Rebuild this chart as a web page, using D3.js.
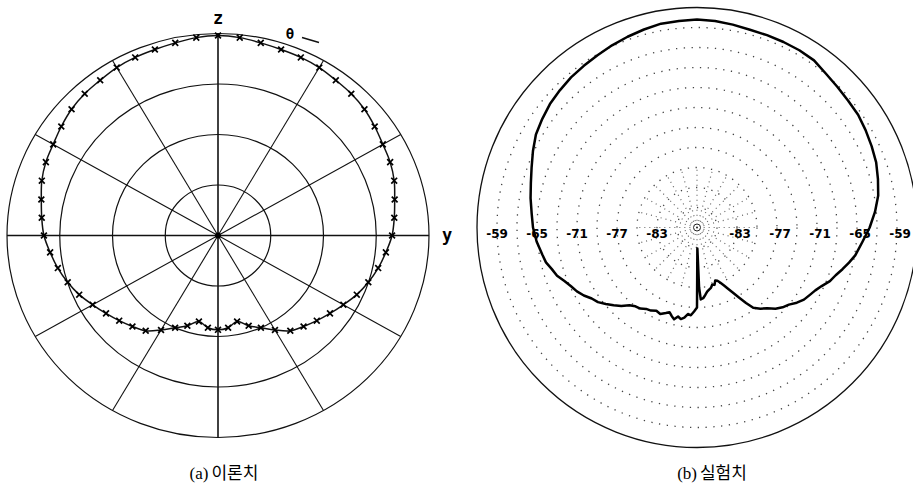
<!DOCTYPE html>
<html>
<head>
<meta charset="utf-8">
<script src="https://cdn.jsdelivr.net/npm/d3@7"></script>
<style>
  body { margin: 0; background: #fff; }
  svg { display: block; }
</style>
</head>
<body>
<svg id="chart" width="913" height="497"></svg>
<script>
// (a) theoretical pattern, theta from z axis (deg), relative radius
var thetaA = [0, 6, 12, 18, 24, 30, 36, 42, 48, 54, 60, 66, 72, 78, 84, 90,
              96, 102, 108, 114, 120, 126, 132, 138, 144, 150, 156, 162, 168, 174, 180];
var radA = [0.99, 0.985, 0.975, 0.968, 0.965, 0.96, 0.95, 0.944, 0.934, 0.918, 0.902, 0.893, 0.878, 0.856, 0.84, 0.825,
            0.80, 0.776, 0.749, 0.72, 0.686, 0.656, 0.63, 0.606, 0.583, 0.54, 0.50, 0.47, 0.435, 0.459, 0.467];
var ringsA = [0.25, 0.5, 0.75, 1];
var spokesA = [0, 30, 60, 90, 120, 150, 180, 210, 240, 270, 300, 330];

// (b) measured pattern, angle clockwise from top (deg), level in dB
var phiB = [0, 5, 10, 15, 20, 25, 30, 35, 40, 45, 50, 55, 60, 65, 70, 75, 80, 85, 90, 95, 100,
            103, 106, 109, 112, 115, 118, 121, 124, 127, 130, 133, 136, 139, 142, 145, 147, 149, 151, 153, 155,
            157, 159, 161, 163, 165, 167, 169, 171, 173, 175, 177, 178, 179, 180, 182, 184, 186, 188, 190, 192,
            194, 196, 198, 200, 203, 206, 209, 212, 215, 218, 221, 224, 227, 230, 233, 236, 239, 242, 245, 248,
            251, 254, 257, 260, 265, 270, 275, 280, 285, 290, 295, 300, 305, 310, 315, 320, 325, 330, 335, 340,
            345, 350, 355];
var dbB = [-57.8, -57.9, -58.1, -58.3, -58.3, -58.3, -58.3, -58.4, -58.9, -59.2, -59.4, -59.5, -59.8, -60.1, -60.4, -60.9, -61.4, -62.2, -63.1, -64.1, -64.9,
           -65.6, -66.3, -67.0, -67.5, -68.3, -68.9, -69.3, -69.65, -70.25, -71.0, -71.45, -72.05, -72.95, -73.55, -74.3, -75.5, -76.7, -77.75, -78.65, -79.4,
           -80.0, -80.45, -80.6, -80.0, -80.15, -79.7, -79.5, -79.25, -78.8, -78.35, -78.2, -80.0, -85.85, -77.0, -76.4, -75.8, -75.95, -75.35, -75.05, -75.35,
           -74.8, -75.2, -75.65, -75.35, -74.9, -75.1, -74.75, -74.6, -74.15, -74.0, -73.55, -72.65, -71.9, -71.15, -70.4, -69.95, -69.2, -68.6, -68.15, -67.55,
           -66.8, -66.35, -65.75, -65.45, -64.85, -64.4, -64.1, -63.65, -63.2, -62.6, -61.85, -61.1, -60.65, -60.2, -59.9, -59.6, -59.4, -59.15, -58.85, -58.55,
           -58.25, -57.95, -57.9];
var ringsB = [-86, -83, -80, -77, -74, -71, -68, -65, -62, -59];
var labelsB = [-83, -77, -71, -65, -59];
var spokesB = [0, 15, 30, 45, 60, 75, 90, 105, 120, 135, 150, 165, 180, 195, 210, 225, 240, 255, 270, 285, 300, 315, 330, 345];

var svg = d3.select("#chart");
svg.append("rect").attr("width", 913).attr("height", 497).attr("fill", "#fff");

var rad = function(d){ return d * Math.PI / 180; };

// ---------- (a) ----------
var ax = 218, ay = 235.5;
var sx = d3.scaleLinear().domain([0, 1]).range([0, 211]);
var sy = d3.scaleLinear().domain([0, 1]).range([0, 202]);
var ga = svg.append("g").attr("transform", "translate(" + ax + "," + ay + ")");

ga.selectAll("ellipse.ring").data(ringsA).enter().append("ellipse")
  .attr("rx", function(d){ return sx(d); })
  .attr("ry", function(d){ return sy(d); })
  .attr("fill", "none").attr("stroke", "#111").attr("stroke-width", 1.2);

ga.selectAll("line.spoke").data(spokesA).enter().append("line")
  .attr("x1", 0).attr("y1", 0)
  .attr("x2", function(d){ return sx(Math.sin(rad(d))); })
  .attr("y2", function(d){ return -sy(Math.cos(rad(d))); })
  .attr("stroke", "#111")
  .attr("stroke-width", function(d){ return d % 90 === 0 ? 1.6 : 1.1; });

ga.append("circle").attr("r", 3).attr("fill", "#000");

// mirror the half pattern onto the other side
var ptsA = [];
thetaA.forEach(function(t, i){ ptsA.push({t: t, r: radA[i]}); });
for (var i = thetaA.length - 2; i > 0; i--) ptsA.push({t: 360 - thetaA[i], r: radA[i]});

var lineA = d3.line()
  .x(function(d){ return sx(d.r * Math.sin(rad(d.t))); })
  .y(function(d){ return -sy(d.r * Math.cos(rad(d.t))); })
  .curve(d3.curveCatmullRomClosed);

ga.append("path").datum(ptsA).attr("d", lineA)
  .attr("fill", "none").attr("stroke", "#111").attr("stroke-width", 1.5);

var mark = d3.symbol().type(d3.symbolTimes || d3.symbolCross).size(24);
ga.selectAll("path.mk").data(ptsA).enter().append("path")
  .attr("transform", function(d){
    return "translate(" + sx(d.r * Math.sin(rad(d.t))) + "," + (-sy(d.r * Math.cos(rad(d.t)))) + ")";
  })
  .attr("d", mark)
  .attr("fill", "#000").attr("stroke", "#000").attr("stroke-width", 1.7);

ga.append("text").attr("x", 0).attr("y", -212).attr("text-anchor", "middle")
  .style("font", "bold 17px 'DejaVu Sans Mono'").text("z");
ga.append("text").attr("x", 229).attr("y", 5).attr("text-anchor", "middle")
  .style("font", "bold 17px 'DejaVu Sans Mono'").text("y");
ga.append("text").attr("x", 72).attr("y", -197).attr("text-anchor", "middle")
  .style("font", "bold 14px 'DejaVu Sans Mono'").text("θ");
ga.append("line").attr("x1", 84).attr("y1", -198).attr("x2", 101).attr("y2", -193)
  .attr("stroke", "#111").attr("stroke-width", 1.4);

var capA = svg.append("text").attr("x", 224).attr("y", 479).attr("text-anchor", "middle")
  .style("font-size", "17px");
capA.append("tspan").style("font-family", "'Liberation Serif'").text("(a)");
capA.append("tspan").attr("dx", 3).style("font-family", "'Noto Sans CJK KR'").text("이론치");

// ---------- (b) ----------
var bx = 697, by = 227.5;
var rB = d3.scaleLinear().domain([-89, -56]).range([0, 220]);
var gb = svg.append("g").attr("transform", "translate(" + bx + "," + by + ")");

gb.selectAll("line.spk").data(spokesB).enter().append("line")
  .attr("x1", function(d){ return rB(-88) * Math.sin(rad(d)); })
  .attr("y1", function(d){ return -rB(-88) * Math.cos(rad(d)); })
  .attr("x2", function(d){ return rB(-80) * Math.sin(rad(d)); })
  .attr("y2", function(d){ return -rB(-80) * Math.cos(rad(d)); })
  .attr("stroke", "#666").attr("stroke-width", 1.2).attr("stroke-dasharray", "1,4");

gb.selectAll("circle.rg").data(ringsB).enter().append("circle")
  .attr("r", function(d){ return rB(d); })
  .attr("fill", "none").attr("stroke", "#444").attr("stroke-width", 1.3)
  .attr("stroke-dasharray", "1.3,6.5");

gb.append("circle").attr("r", rB(-56)).attr("fill", "none")
  .attr("stroke", "#111").attr("stroke-width", 1.3);

gb.append("circle").attr("r", 3.5).attr("fill", "none").attr("stroke", "#222").attr("stroke-width", 1);
gb.append("circle").attr("r", 1).attr("fill", "#222");

var lblB = [];
labelsB.forEach(function(v){ lblB.push({v: v, s: -1}); lblB.push({v: v, s: 1}); });
gb.selectAll("text.lb").data(lblB).enter().append("text")
  .attr("x", function(d){ return d.s * rB(d.v) + (d.s > 0 ? 3 : 0); })
  .attr("y", 10)
  .attr("text-anchor", "middle")
  .style("font", "bold 12px 'DejaVu Sans'")
  .text(function(d){ return "-" + Math.abs(d.v); });

var ptsB = phiB.map(function(p, i){ return {p: p, v: dbB[i]}; });
var lineB = d3.line()
  .x(function(d){ return rB(d.v) * Math.sin(rad(d.p)); })
  .y(function(d){ return -rB(d.v) * Math.cos(rad(d.p)); })
  .curve(d3.curveLinearClosed);

gb.append("path").datum(ptsB).attr("d", lineB)
  .attr("fill", "none").attr("stroke", "#000").attr("stroke-width", 2.5)
  .attr("stroke-linejoin", "round");

var capB = svg.append("text").attr("x", 712).attr("y", 479).attr("text-anchor", "middle")
  .style("font-size", "17px");
capB.append("tspan").style("font-family", "'Liberation Serif'").text("(b)");
capB.append("tspan").attr("dx", 3).style("font-family", "'Noto Sans CJK KR'").text("실험치");
</script>
</body>
</html>
